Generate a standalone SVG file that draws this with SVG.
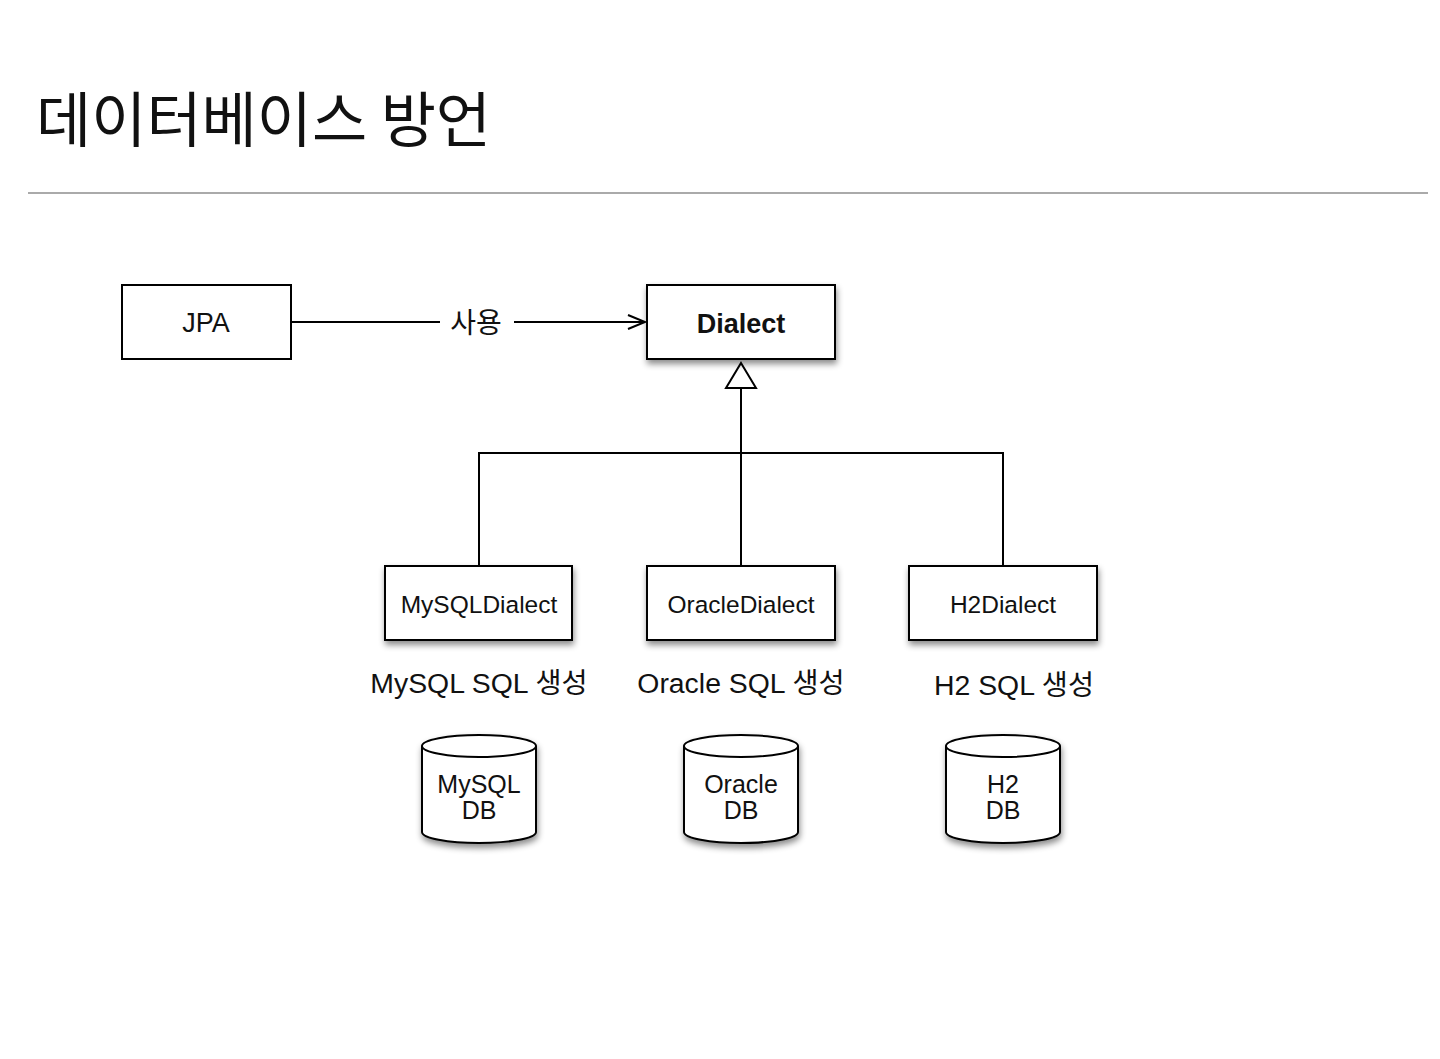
<svg xmlns="http://www.w3.org/2000/svg" width="1440" height="1059" viewBox="0 0 1440 1059">
<defs>
<filter id="sh" x="-20%" y="-20%" width="150%" height="160%">
<feDropShadow dx="1" dy="4" stdDeviation="3" flood-color="#000" flood-opacity="0.45"/>
</filter>
<marker id="open" markerWidth="20" markerHeight="16" refX="18" refY="8" orient="auto" markerUnits="userSpaceOnUse">
<path d="M1,1 L18,8 L1,15" fill="none" stroke="#000" stroke-width="2"/>
</marker>
</defs>
<style>
.box{fill:#fff;stroke:#000;stroke-width:2}
.line{fill:none;stroke:#000;stroke-width:2}
.t{font-family:"Liberation Sans","Noto Sans CJK KR",sans-serif;fill:#111;text-anchor:middle}
.lbl{font-size:24.5px}
.cap{font-size:28.4px}
.db{font-size:25px}
</style>
<rect width="1440" height="1059" fill="#fff"/>
<text x="36" y="142" font-family="'Noto Sans CJK KR',sans-serif" font-size="60" fill="#111">데이터베이스 방언</text>
<line x1="28" y1="193" x2="1428" y2="193" stroke="#aaa" stroke-width="2"/>

<g id="connectors">
<line class="line" x1="291" y1="322" x2="440" y2="322"/>
<line class="line" x1="514" y1="322" x2="645" y2="322" marker-end="url(#open)"/>
<text class="t" x="476" y="333" font-size="28">사용</text>
<polyline class="line" points="479,565 479,453 1003,453 1003,565"/>
<line class="line" x1="741" y1="388" x2="741" y2="565"/>
<polygon points="741,363 756,388 726,388" fill="#fff" stroke="#000" stroke-width="2"/>
</g>

<g id="jpa">
<rect class="box" x="122" y="285" width="169" height="74"/>
<text class="t" x="206" y="332" font-size="27">JPA</text>
</g>
<g id="dialect">
<rect class="box" x="647" y="285" width="188" height="74" filter="url(#sh)"/>
<text class="t" x="741" y="333" font-size="27" font-weight="bold">Dialect</text>
</g>

<g id="mysqldialect">
<rect class="box" x="385" y="566" width="187" height="74" filter="url(#sh)"/>
<text class="t lbl" x="479" y="613">MySQLDialect</text>
</g>
<g id="oracledialect">
<rect class="box" x="647" y="566" width="188" height="74" filter="url(#sh)"/>
<text class="t lbl" x="741" y="613">OracleDialect</text>
</g>
<g id="h2dialect">
<rect class="box" x="909" y="566" width="188" height="74" filter="url(#sh)"/>
<text class="t lbl" x="1003" y="613">H2Dialect</text>
</g>

<g id="labels">
<text class="t cap" x="479" y="693">MySQL SQL 생성</text>
<text class="t cap" x="741" y="693">Oracle SQL 생성</text>
<text class="t cap" x="1014" y="695">H2 SQL 생성</text>
</g>

<g id="mysqldb">
<path class="box" d="M422,746 L422,832 A57,11 0 0 0 536,832 L536,746 A57,11 0 0 0 422,746 Z" filter="url(#sh)"/>
<path class="line" d="M422,746 A57,11 0 0 0 536,746"/>
<text class="t db" x="479" y="793">MySQL</text>
<text class="t db" x="479" y="819">DB</text>
</g>
<g id="oracledb">
<path class="box" d="M684,746 L684,832 A57,11 0 0 0 798,832 L798,746 A57,11 0 0 0 684,746 Z" filter="url(#sh)"/>
<path class="line" d="M684,746 A57,11 0 0 0 798,746"/>
<text class="t db" x="741" y="793">Oracle</text>
<text class="t db" x="741" y="819">DB</text>
</g>
<g id="h2db">
<path class="box" d="M946,746 L946,832 A57,11 0 0 0 1060,832 L1060,746 A57,11 0 0 0 946,746 Z" filter="url(#sh)"/>
<path class="line" d="M946,746 A57,11 0 0 0 1060,746"/>
<text class="t db" x="1003" y="793">H2</text>
<text class="t db" x="1003" y="819">DB</text>
</g>
</svg>
